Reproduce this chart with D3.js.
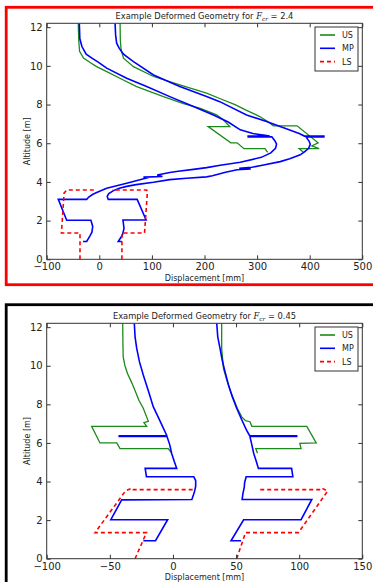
<!DOCTYPE html>
<html>
<head>
<meta charset="utf-8">
<script src="https://cdn.jsdelivr.net/npm/d3@7"></script>
<style>
  body { margin: 0; background: #fff; }
  svg { display: block; }
  text { font-family: "DejaVu Sans", sans-serif; fill: #222; }
</style>
</head>
<body>
<svg id="chart"></svg>
<script>
// tick values
const xTicksA = [-100, 0, 100, 200, 300, 400, 500];
const xTicksB = [-100, -50, 0, 50, 100, 150];
const yTicks = [0, 2, 4, 6, 8, 10, 12];
const legendNames = ["US", "MP", "LS"];

// panel A : Fcr = 2.4   ([displacement mm, altitude m])
const usLeftA = [[-40,12.2],[-39,11.3],[-37.5,10.75],[-30,10.4],[-16,10.15],[-5,9.96],[18,9.65],[39,9.36],[71,8.93],[122,8.41],[160,8.05],[192,7.8],[223,7.47],[236,7.2],[248,6.86],[207,6.86],[250,6.02],[262,6.02],[275,5.72],[315,5.72],[320,5.53]];
const usRightA = [[39.5,12.2],[40,11.3],[41.5,10.83],[46,10.4],[65,9.96],[103,9.45],[153,9.02],[204,8.59],[230,8.3],[258,8.0],[280,7.7],[305,7.38],[320,7.12],[331,6.9],[376,6.9],[416,6.02],[404,5.86],[418,5.72],[380,5.72],[388,5.53]];
const mpLeftA = [[-38,12.2],[-37,11.4],[-33,11.0],[-25,10.6],[-14,10.4],[0,10.15],[14,9.88],[52,9.36],[90,8.93],[134,8.41],[179,7.9],[217,7.46],[245,7.1],[268,6.69],[292,6.5],[312,6.42],[324,6.37],[283,6.37],[283,6.33],[328,6.33],[334,6.12],[337,5.95],[335,5.74],[326,5.5],[308,5.27],[268,5.02],[230,4.86],[204,4.74],[179,4.65],[150,4.55],[134,4.49],[110,4.36],[120,4.28],[84,4.25],[90,4.2],[52,3.93],[14,3.67],[-5,3.45],[-13,3.35],[-20,3.22],[-24,3.1],[-78,3.1],[-62,2.02],[-16,2.02],[-12.5,1.7],[-14,1.4],[-18,1.2],[-24,0.92],[-31,0.92]];
const mpRightA = [[30,12.2],[31,11.6],[33,11.17],[38,10.9],[46,10.6],[65,10.22],[103,9.53],[153,8.93],[204,8.41],[229,8.15],[280,7.46],[318,7.12],[345,6.85],[362,6.69],[380,6.5],[390,6.37],[427,6.37],[427,6.33],[393,6.33],[399,6.1],[401,5.95],[398,5.74],[390,5.55],[382,5.4],[362,5.2],[344,5.05],[310,4.86],[290,4.76],[266,4.7],[288,4.67],[262,4.63],[240,4.5],[215,4.32],[204,4.26],[166,4.19],[134,4.12],[103,3.98],[70,3.86],[52,3.77],[38,3.67],[27,3.55],[18,3.4],[15,3.25],[17,3.1],[72,3.1],[89,2.03],[45,2.03],[47,1.6],[44,1.26],[36,0.92],[43,0.92]];
const lsLeftA = [[-36.7,0],[-36.7,1.36],[-72,1.36],[-67,3.42],[-62,3.58],[-8,3.58]];
const lsRightA = [[43,0],[43,1.36],[86,1.36],[91.5,3.5],[90,3.58],[25,3.58]];

// panel B : Fcr = 0.45
const usLeftB = [[-39.8,12.2],[-39.6,11],[-39.4,10.45],[-38,10.0],[-36,9.6],[-32.5,9.1],[-29,8.55],[-27,8.21],[-23.5,7.8],[-19.5,7.12],[-23,7.05],[-20.8,6.86],[-64.4,6.86],[-57.8,6.0],[-44.5,6.0],[-41.9,5.71],[-3.7,5.71],[-1,5.47]];
const usRightB = [[38.6,12.2],[38.6,10.9],[40,9.87],[42.5,9.3],[46,8.6],[51,7.8],[54.5,7.35],[57.5,7.15],[61,7.1],[62.5,6.86],[106,6.86],[113.5,6.0],[100.5,5.98],[101.5,5.71],[65.6,5.71],[67,5.47]];
const mpLeftB = [[-30.6,12.2],[-30,11.5],[-28.7,10.9],[-26.5,10.2],[-23.5,9.52],[-19.5,8.7],[-15.6,7.88],[-10,7.1],[-5,6.4],[-4.9,6.37],[-42.5,6.37],[-42.5,6.33],[-4.7,6.33],[-2.5,5.9],[-1,5.45],[1,5.05],[3,4.68],[-22,4.68],[-21,4.25],[16.5,4.25],[18,4.05],[18,3.75],[17,3.45],[15,3.07],[-40.6,3.05],[-49.2,2.02],[-4.2,2.02],[-13.8,0.93],[-23.4,0.93]];
const mpRightB = [[34.7,12.2],[35.5,11.5],[37.3,10.9],[39,10.3],[41.2,9.7],[44,9.0],[47,8.4],[50.5,7.8],[54.5,7.2],[58,6.7],[60.5,6.4],[61,6.37],[98,6.37],[98,6.33],[61,6.33],[62.5,5.9],[64,5.45],[66,5.05],[67.7,4.68],[94,4.68],[95,4.25],[58,4.25],[56.8,3.95],[56.5,3.7],[55.5,3.4],[54.8,3.07],[110,3.07],[101.5,2.02],[56,2.02],[46,0.93],[54,0.93]];
const lsLeftB = [[-30,0],[-21,1.35],[-61.7,1.35],[-37.5,3.52],[-32.5,3.66],[-31.5,3.58],[18,3.58]];
const lsRightB = [[50.5,0],[57.5,1.35],[99.4,1.35],[122.5,3.5],[118,3.66],[117,3.58],[67.6,3.58]];

var width = 373, height = 582;
var plotLeft = 46.7, plotRight = 362.3;
var green = "#1a8a1a", blue = "#0000ff", red = "#ff0000";

const svg = d3.select("#chart").attr("width", width).attr("height", height);
svg.append("rect").attr("width", width).attr("height", height).attr("fill", "#fff");

// screenshot frames round each figure
svg.append("rect").attr("x", 6.2).attr("y", 7.3).attr("width", 372).attr("height", 277.4)
  .attr("fill", "none").attr("stroke", red).attr("stroke-width", 2.8);
svg.append("rect").attr("x", 6.2).attr("y", 304.7).attr("width", 372).attr("height", 300)
  .attr("fill", "none").attr("stroke", "#000").attr("stroke-width", 2.8);

function drawPanel(o) {
  const x = d3.scaleLinear().domain([o.xTicks[0], o.xTicks[o.xTicks.length - 1]]).range([plotLeft, plotRight]);
  const y = d3.scaleLinear().domain([0, 12.2]).range([o.bottom, o.top]);
  const g = svg.append("g");
  const clipId = "clip" + o.id;

  g.append("clipPath").attr("id", clipId)
    .append("rect").attr("x", plotLeft).attr("y", o.top)
    .attr("width", plotRight - plotLeft).attr("height", o.bottom - o.top);

  const line = d3.line().x(d => x(d[0])).y(d => y(d[1]));
  const lines = g.append("g").attr("clip-path", `url(#${clipId})`).attr("fill", "none");

  // US
  lines.selectAll(".us").data(o.us).join("path").attr("class", "us")
    .attr("d", line).attr("stroke", green).attr("stroke-width", 1.3);
  // MP
  lines.selectAll(".mp").data(o.mp).join("path").attr("class", "mp")
    .attr("d", line).attr("stroke", blue).attr("stroke-width", 1.6);
  // LS
  lines.selectAll(".ls").data(o.ls).join("path").attr("class", "ls")
    .attr("d", line).attr("stroke", red).attr("stroke-width", 1.6)
    .attr("stroke-dasharray", "4,3");

  // axes, ticks inward on all sides
  const ax = g.append("g").attr("font-size", 7);
  ax.append("g").attr("transform", `translate(0,${o.bottom})`)
    .call(d3.axisBottom(x).tickValues(o.xTicks).tickSizeInner(-4).tickSizeOuter(0).tickPadding(4))
    .call(a => a.select(".domain").remove());
  ax.append("g").attr("transform", `translate(0,${o.top})`)
    .call(d3.axisTop(x).tickValues(o.xTicks).tickSizeInner(-4).tickSizeOuter(0).tickFormat(""))
    .call(a => a.select(".domain").remove());
  ax.append("g").attr("transform", `translate(${plotLeft},0)`)
    .call(d3.axisLeft(y).tickValues(yTicks).tickSizeInner(-4).tickSizeOuter(0).tickPadding(4))
    .call(a => a.select(".domain").remove());
  ax.append("g").attr("transform", `translate(${plotRight},0)`)
    .call(d3.axisRight(y).tickValues(yTicks).tickSizeInner(-4).tickSizeOuter(0).tickFormat(""))
    .call(a => a.select(".domain").remove());
  ax.selectAll(".tick line").attr("stroke", "#333");
  ax.selectAll(".tick text").attr("fill", "#333");

  g.append("rect").attr("x", plotLeft).attr("y", o.top)
    .attr("width", plotRight - plotLeft).attr("height", o.bottom - o.top)
    .attr("fill", "none").attr("stroke", "#333").attr("stroke-width", 1);

  // title
  const cx = (plotLeft + plotRight) / 2;
  const t = g.append("text").attr("x", cx).attr("y", o.top - 4)
    .attr("text-anchor", "middle").attr("font-size", 8.3);
  t.append("tspan").text("Example Deformed Geometry for ");
  t.append("tspan").attr("font-family", "DejaVu Serif").attr("font-style", "italic").text("F");
  t.append("tspan").attr("font-family", "DejaVu Serif").attr("font-style", "italic")
    .attr("font-size", 5.8).attr("dy", 1.5).text("cr");
  t.append("tspan").attr("dy", -1.5).text(" = " + o.fcr);

  // axis labels
  g.append("text").attr("x", cx).attr("y", o.bottom + 21.5)
    .attr("text-anchor", "middle").attr("font-size", 8).text("Displacement [mm]");
  g.append("text").attr("transform", `translate(29.5,${(o.top + o.bottom) / 2}) rotate(-90)`)
    .attr("text-anchor", "middle").attr("font-size", 8).text("Altitude [m]");

  // legend
  const lx = 315, ly = o.top + 3.7;
  const lg = g.append("g").attr("transform", `translate(${lx},${ly})`);
  lg.append("rect").attr("width", 43).attr("height", 44)
    .attr("fill", "#fff").attr("stroke", "#333").attr("stroke-width", 1);
  const rows = lg.selectAll(".row").data(legendNames).join("g")
    .attr("transform", (d, i) => `translate(0,${8 + i * 13.3})`);
  rows.append("line").attr("x1", 5).attr("x2", 20)
    .attr("stroke", (d, i) => [green, blue, red][i])
    .attr("stroke-width", 1.6)
    .attr("stroke-dasharray", (d, i) => i === 2 ? "4,3" : null);
  rows.append("text").attr("x", 27).attr("y", 3).attr("font-size", 8).text(d => d);
}

drawPanel({id: "A", top: 23.3, bottom: 259.3, xTicks: xTicksA, fcr: "2.4",
  us: [usLeftA, usRightA], mp: [mpLeftA, mpRightA], ls: [lsLeftA, lsRightA]});
drawPanel({id: "B", top: 323.3, bottom: 558.7, xTicks: xTicksB, fcr: "0.45",
  us: [usLeftB, usRightB], mp: [mpLeftB, mpRightB], ls: [lsLeftB, lsRightB]});
</script>
</body>
</html>
